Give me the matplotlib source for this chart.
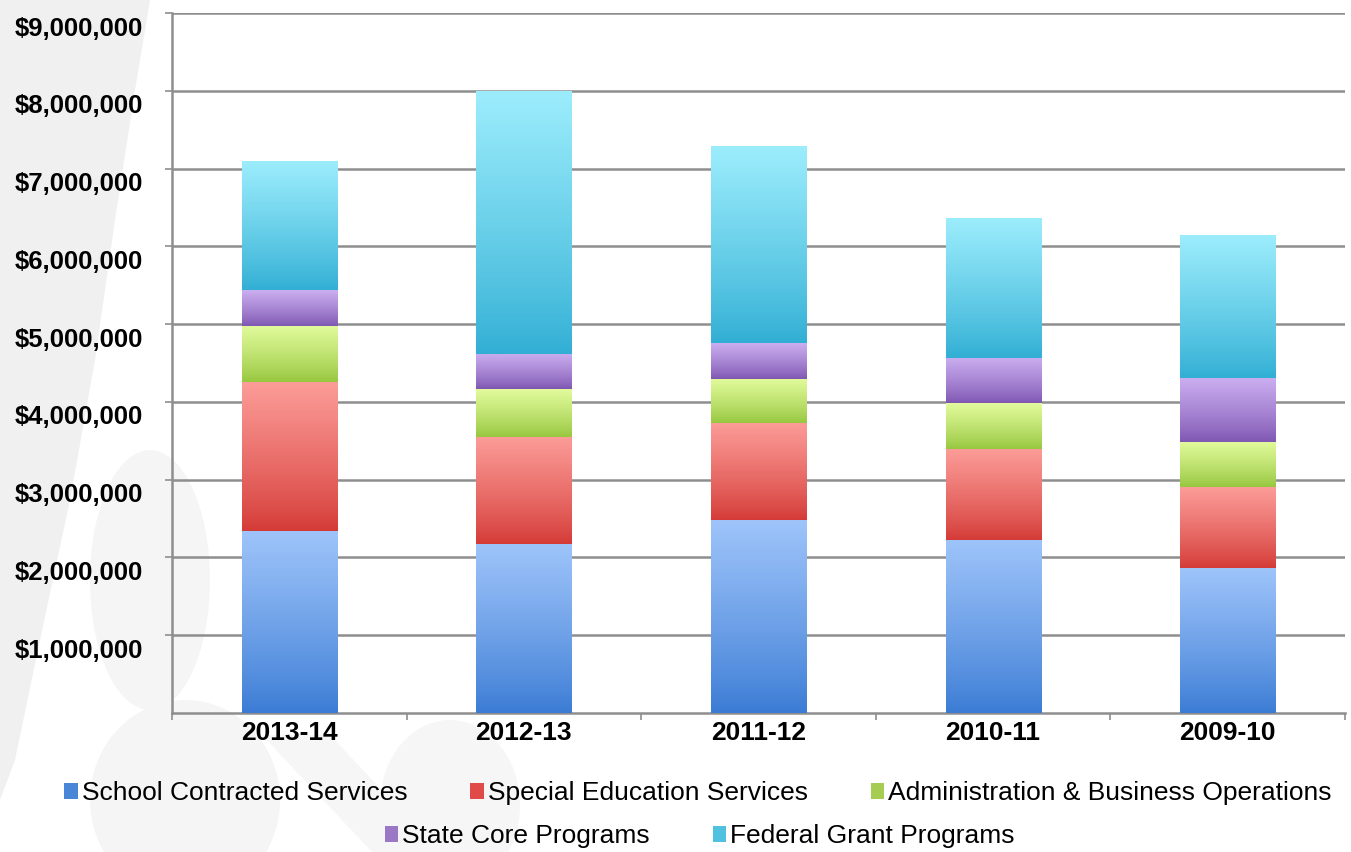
import numpy as np
import matplotlib
matplotlib.use('Agg')
import matplotlib.pyplot as plt
from matplotlib.transforms import ScaledTranslation
from matplotlib.colors import to_rgb
from matplotlib.patches import Polygon, Ellipse

# ---------------- data ----------------
years = ['2013-14', '2012-13', '2011-12', '2010-11', '2009-10']
series_names = ['School Contracted Services', 'Special Education Services',
                'Administration & Business Operations', 'State Core Programs',
                'Federal Grant Programs']
school_contracted = [2340000, 2170000, 2480000, 2230000, 1860000]
special_education = [1910000, 1380000, 1250000, 1170000, 1040000]
admin_business = [730000, 610000, 570000, 580000, 590000]
state_core = [460000, 460000, 460000, 580000, 820000]
federal_grant = [1650000, 3370000, 2520000, 1800000, 1830000]
y_ticks = [1000000, 2000000, 3000000, 4000000, 5000000,
           6000000, 7000000, 8000000, 9000000]
y_tick_labels = ['$1,000,000', '$2,000,000', '$3,000,000', '$4,000,000',
                 '$5,000,000', '$6,000,000', '$7,000,000', '$8,000,000',
                 '$9,000,000']

series_values = [school_contracted, special_education, admin_business,
                 state_core, federal_grant]
legend_colors = ['#4a86d8', '#e04a48', '#a6cc52', '#9a78c6', '#50c2e0']
grad_top = ['#9ec4fa', '#fc9c98', '#e2fb9c', '#cbaef0', '#9cedfc']
grad_bot = ['#3a7bd4', '#d43a36', '#96c63e', '#7e56b2', '#30aed4']

plt.rcParams['font.family'] = ['Liberation Sans', 'DejaVu Sans']

fig = plt.figure(figsize=(13.51, 8.52), dpi=100)
fig.patch.set_facecolor('white')

# faint background watermark shapes
bg = fig.add_axes([0, 0, 1, 1], zorder=-5)
bg.set_xlim(0, 1351)
bg.set_ylim(852, 0)
bg.axis('off')
bg.add_patch(Polygon([(0, 0), (150, 0), (135, 90), (115, 220), (95, 360),
                      (70, 500), (40, 640), (15, 760), (0, 800)],
                     closed=True, fc='#f0f0f0', ec='none'))
bg.add_patch(Ellipse((185, 800), 190, 200, fc='#f5f5f5', ec='none'))
bg.add_patch(Ellipse((450, 805), 140, 170, fc='#f6f6f6', ec='none'))
bg.add_patch(Polygon([(262, 735), (330, 735), (440, 852), (372, 852)],
                     closed=True, fc='#f6f6f6', ec='none'))
bg.add_patch(Ellipse((150, 580), 120, 260, fc='#f5f5f5', ec='none'))

ax = fig.add_axes([172 / 1351, 1 - 713 / 852, (1345 - 172) / 1351, 700 / 852])
ax.set_facecolor('none')

x = np.arange(len(years))
width = 0.405
bottom = np.zeros(len(years))
handles = []
for vals, name, lc, tc, bc in zip(series_values, series_names, legend_colors,
                                  grad_top, grad_bot):
    vals = np.array(vals, dtype=float)
    bars = ax.bar(x, vals, width, bottom=bottom, color=lc, linewidth=0,
                  label=name, zorder=2)
    handles.append(bars)
    top_rgb = np.array(to_rgb(tc))
    bot_rgb = np.array(to_rgb(bc))
    t = np.linspace(0, 1, 256)[:, None]
    tt = t ** 0.85
    arr = (bot_rgb[None, :] * (1 - tt) + top_rgb[None, :] * tt)[:, None, :]
    for p in bars.patches:
        x0, y0 = p.get_x(), p.get_y()
        w, h = p.get_width(), p.get_height()
        ax.imshow(arr, extent=[x0, x0 + w, y0, y0 + h], origin='lower',
                  aspect='auto', interpolation='bilinear', zorder=3)
    bottom += vals

ax.set_xlim(-0.5, len(years) - 0.5)
ax.set_ylim(0, 9000000)

grid_c = '#8e8e8e'
ax.set_yticks(y_ticks)
ax.set_yticklabels(y_tick_labels, fontsize=18.5, fontweight='bold')
ax.yaxis.grid(True, color=grid_c, linewidth=1.8, zorder=0)
ax.set_axisbelow(True)
ax.tick_params(axis='y', length=5, width=1.2, color=grid_c, pad=16)
offset = ScaledTranslation(0, -13 / 100, fig.dpi_scale_trans)
for lab in ax.get_yticklabels():
    lab.set_transform(lab.get_transform() + offset)

ax.set_xticks(x)
ax.set_xticklabels(years, fontsize=19, fontweight='bold')
ax.set_xticks(np.arange(-0.5, len(years), 1.0), minor=True)
ax.tick_params(axis='x', which='major', length=0, pad=6)
ax.tick_params(axis='x', which='minor', length=5, width=1.2, color=grid_c)

for s in ['top', 'right']:
    ax.spines[s].set_visible(False)
for s in ['left', 'bottom']:
    ax.spines[s].set_color(grid_c)
    ax.spines[s].set_linewidth(1.8)

leg_kw = dict(loc='center', frameon=False, fontsize=19, handlelength=0.5,
              handleheight=0.55, handletextpad=0.15, columnspacing=2.4,
              borderaxespad=0, borderpad=0)
leg1 = fig.legend(handles[:3], series_names[:3], ncol=3,
                  bbox_to_anchor=(698 / 1351, 1 - 793 / 852), **leg_kw)
leg2 = fig.legend(handles[3:], series_names[3:], ncol=2,
                  bbox_to_anchor=(700 / 1351, 1 - 836 / 852), **leg_kw)

fig.savefig('out.png', dpi=100)
